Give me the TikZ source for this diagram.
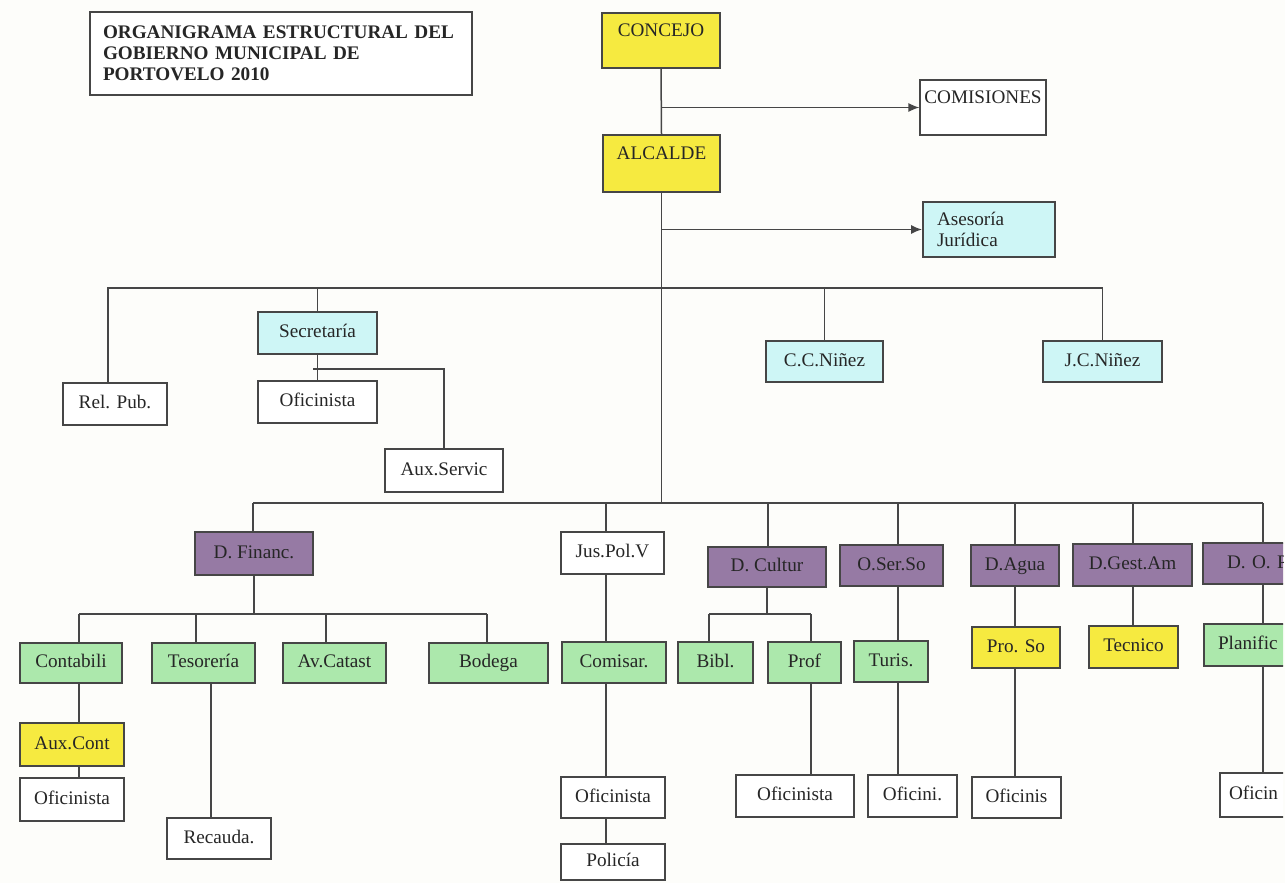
\documentclass[tikz,border=0pt]{standalone}
\usepackage{fontspec}
\setmainfont{Liberation Serif}
\usetikzlibrary{arrows.meta}
\definecolor{orgyellow}{RGB}{246,234,64}
\definecolor{orgcyan}{RGB}{206,246,246}
\definecolor{orgpurple}{RGB}{150,122,164}
\definecolor{orggreen}{RGB}{172,232,172}
\definecolor{orgline}{RGB}{70,70,70}
\definecolor{orgpaper}{RGB}{253,253,250}
\tikzset{
  box/.style={draw=orgline, line width=0.9pt, fill=white, inner xsep=2pt, inner ysep=1pt, text=black!85, text height=7pt, text depth=2.2pt},
  yelbox/.style={box, fill=orgyellow},
  cyanbox/.style={box, fill=orgcyan},
  purplebox/.style={box, fill=orgpurple},
  greenbox/.style={box, fill=orggreen},
  raised/.style={text depth=10.5pt},
  multiline/.style={text height=, text depth=},
  conn/.style={draw=orgline, line width=0.75pt},
  arrow/.style={conn, -{Latex[length=5.5pt,width=4.5pt]}},
}
% box from corner (x1,y1) to corner (x2,y2), pixel units
\def\orgbox[#1](#2)(#3,#4)(#5,#6)#7{\node[#1, minimum width={(#5-#3)*0.5pt}, minimum height={(#6-#4)*0.5pt}] (#2) at ({(#3+#5)/2},{(#4+#6)/2}) {#7};}

\begin{document}
\begin{tikzpicture}[x=0.5pt, y=-0.5pt, font=\fontsize{9.6}{10.5}\selectfont]
			%%%%% START %%%%%
			\useasboundingbox (0,0) rectangle (1285,883);
			\fill[orgpaper] (0,0) rectangle (1285,883);
			\begin{scope}
			\clip (0,0) rectangle (1283,883);
			
			\orgbox[box, multiline, line width=1pt, text width=178pt, align=left, inner xsep=6.5pt, font=\fontsize{9.6}{10.5}\selectfont\bfseries](title)(90,12)(472,95){ORGANIGRAMA ESTRUCTURAL DEL\\GOBIERNO MUNICIPAL DE\\PORTOVELO 2010}
			
			\orgbox[yelbox, raised](concejo)(602,13)(720,68){CONCEJO}
			\orgbox[yelbox, raised](alcalde)(603,135)(720,192){ALCALDE}
			\orgbox[box, raised](comisiones)(923,80)(1043,135){COMISIONES}
			\orgbox[cyanbox, multiline, text width=52pt, align=left, inner xsep=7pt](asesoria)(923,202)(1055,257){Asesoría\\Jurídica}
			
			\orgbox[box](relpub)(63,383)(167,425){Rel. Pub.}
			\orgbox[cyanbox](secretaria)(258,312)(377,354){Secretaría}
			\orgbox[box](ofisec)(258,381)(377,423){Oficinista}
			\orgbox[box](auxservic)(385,449)(503,492){Aux.Servic}
			\orgbox[cyanbox](ccninez)(766,341)(883,382){C.C.Niñez}
			\orgbox[cyanbox](jcninez)(1043,341)(1162,382){J.C.Niñez}
			
			\orgbox[purplebox](dfinanc)(195,532)(313,575){D. Financ.}
			\orgbox[greenbox](contabili)(20,643)(122,683){Contabili}
			\orgbox[greenbox](tesoreria)(152,643)(255,683){Tesorería}
			\orgbox[greenbox](avcatast)(283,643)(386,683){Av.Catast}
			\orgbox[greenbox](bodega)(429,643)(548,683){Bodega}
			\orgbox[yelbox](auxcont)(20,723)(124,766){Aux.Cont}
			\orgbox[box](oficont)(20,778)(124,821){Oficinista}
			\orgbox[box](recauda)(167,818)(271,859){Recauda.}
			
			\orgbox[box](juspol)(561,532)(664,574){Jus.Pol.V}
			\orgbox[greenbox](comisar)(562,642)(666,683){Comisar.}
			\orgbox[box](ofijus)(561,777)(665,818){Oficinista}
			\orgbox[box](policia)(561,844)(665,880){Policía}
			
			\orgbox[purplebox](dcultur)(708,547)(826,587){D. Cultur}
			\orgbox[greenbox](bibl)(678,642)(753,683){Bibl.}
			\orgbox[greenbox](prof)(768,642)(841,683){Prof}
			\orgbox[box](oficul)(736,775)(854,817){Oficinista}
			
			\orgbox[purplebox](oserso)(840,545)(943,586){O.Ser.So}
			\orgbox[greenbox](turis)(854,641)(928,682){Turis.}
			\orgbox[box](ofiser)(868,775)(957,817){Oficini.}
			
			\orgbox[purplebox](dagua)(971,545)(1059,586){D.Agua}
			\orgbox[yelbox](proso)(972,627)(1060,668){Pro. So}
			\orgbox[box](ofiagua)(972,777)(1061,818){Oficinis}
			
			\orgbox[purplebox](dgestam)(1073,544)(1192,586){D.Gest.Am}
			\orgbox[yelbox](tecnico)(1089,626)(1178,668){Tecnico}
			
			\orgbox[purplebox, text width=36pt, align=left, inner xsep=12pt](dop)(1203,543)(1323,584){D. O. P}
			\orgbox[greenbox, text width=45pt, align=left, inner xsep=7pt](planific)(1204,624)(1322,666){Planific}
			\orgbox[box, text width=34pt, align=left, inner xsep=4.5pt](ofiop)(1220,773)(1306,817){Oficin}
			
			% buses and columns
			\coordinate (busA) at (662,288);
			\coordinate (busB) at (662,503);
			\coordinate (secbr) at (313,369);
			\coordinate (cF) at (253,503);
			\coordinate (cJ) at (606,503);
			\coordinate (cC) at (768,503);
			\coordinate (cS) at (898,503);
			\coordinate (cA) at (1015,503);
			\coordinate (cG) at (1133,503);
			\coordinate (cP) at (1263,503);
			\coordinate (sF1) at (79,614);
			\coordinate (sF2) at (196,614);
			\coordinate (sF3) at (326,614);
			\coordinate (sF4) at (487,614);
			\coordinate (kT) at (211,683);
			\coordinate (sC1) at (709,614);
			\coordinate (sC2) at (811,614);
			
			\draw[conn] (concejo.south) -- (alcalde.north);
			\draw[arrow] (concejo.south |- comisiones.west) -- (comisiones.west);
			\draw[conn] (alcalde.south) -- (alcalde.south |- busB);
			\draw[arrow] (alcalde.south |- asesoria.west) -- (asesoria.west);
			
			\draw[conn] ([xshift=-3.5pt]relpub.north) |- (busA) -| (jcninez.north);
			\draw[conn] (secretaria.north) -- (secretaria.north |- busA);
			\draw[conn] (ccninez.north) -- (ccninez.north |- busA);
			\draw[conn] (secretaria.south) -- (ofisec.north);
			\draw[conn] (secbr) -| (auxservic.north);
			
			\draw[conn] (cF) -- (cP);
			\draw[conn] (cF) -- (cF |- dfinanc.north);
			\draw[conn] (dfinanc.south) -- (dfinanc.south |- sF1);
			\draw[conn] (sF1) -- (sF4);
			\draw[conn] (sF1) -- (sF1 |- contabili.north);
			\draw[conn] (sF2) -- (sF2 |- tesoreria.north);
			\draw[conn] (sF3) -- (sF3 |- avcatast.north);
			\draw[conn] (sF4) -- (sF4 |- bodega.north);
			\draw[conn] (sF1 |- contabili.south) -- (sF1 |- auxcont.north);
			\draw[conn] (sF1 |- auxcont.south) -- (sF1 |- oficont.north);
			\draw[conn] (kT) -- (kT |- recauda.north);
			
			\draw[conn] (cJ) -- (cJ |- juspol.north);
			\draw[conn] (cJ |- juspol.south) -- (cJ |- comisar.north);
			\draw[conn] (cJ |- comisar.south) -- (cJ |- ofijus.north);
			\draw[conn] (cJ |- ofijus.south) -- (cJ |- policia.north);
			
			\draw[conn] (cC) -- (cC |- dcultur.north);
			\draw[conn] (dcultur.south) -- (dcultur.south |- sC1);
			\draw[conn] (sC1) -- (sC2);
			\draw[conn] (sC1) -- (sC1 |- bibl.north);
			\draw[conn] (sC2) -- (sC2 |- prof.north);
			\draw[conn] (sC2 |- prof.south) -- (sC2 |- oficul.north);
			
			\draw[conn] (cS) -- (cS |- oserso.north);
			\draw[conn] (cS |- oserso.south) -- (cS |- turis.north);
			\draw[conn] (cS |- turis.south) -- (cS |- ofiser.north);
			
			\draw[conn] (cA) -- (cA |- dagua.north);
			\draw[conn] (cA |- dagua.south) -- (cA |- proso.north);
			\draw[conn] (cA |- proso.south) -- (cA |- ofiagua.north);
			
			\draw[conn] (cG) -- (cG |- dgestam.north);
			\draw[conn] (cG |- dgestam.south) -- (cG |- tecnico.north);
			
			\draw[conn] (cP) -- (cP |- dop.north);
			\draw[conn] (cP |- dop.south) -- (cP |- planific.north);
			\draw[conn] (cP |- planific.south) -- (cP |- ofiop.north);
			\end{scope}
			
			%%%%% END %%%%%
		\end{tikzpicture}
\end{document}
